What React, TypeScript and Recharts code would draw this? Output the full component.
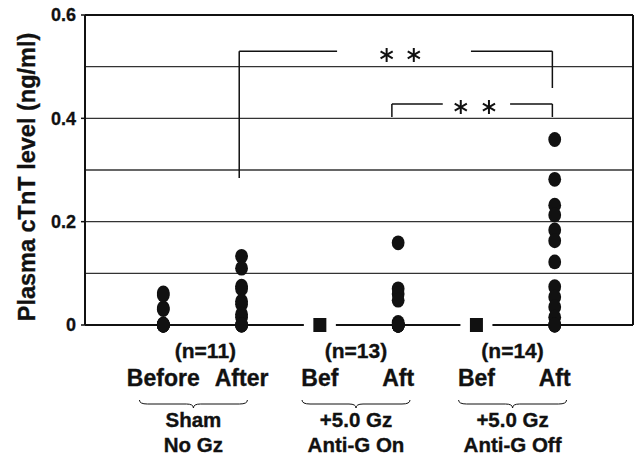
import React from 'react';
import { ComposedChart, Scatter, XAxis, YAxis, ReferenceLine, Label } from 'recharts';

// ---- data ----
const columnX = [1, 2, 3, 4, 5, 6];
const columnLabels = ['Before', 'After', 'Bef', 'Aft', 'Bef', 'Aft'];
const groupX = [1.5, 3.5, 5.5];
const groupN = ['(n=11)', '(n=13)', '(n=14)'];
const groupLine1 = ['Sham', '+5.0 Gz', '+5.0 Gz'];
const groupLine2 = ['No Gz', 'Anti-G On', 'Anti-G Off'];
const yTicks = [0, 0.2, 0.4, 0.6];
const gridValues = [0.1, 0.2, 0.3, 0.4, 0.5];

const shamBefore = [0.062, 0.058, 0.033, 0.03, 0.002, 0, 0, 0, 0, 0, 0];
const shamAfter = [0.133, 0.11, 0.075, 0.07, 0.046, 0.04, 0.021, 0.015, 0, 0, 0];
const onBefore = [0];
const onAfter = [0.159, 0.07, 0.06, 0.048, 0.005, 0, 0, 0, 0, 0, 0, 0, 0];
const offBefore = [0];
const offAfter = [0.359, 0.282, 0.232, 0.213, 0.184, 0.163, 0.122, 0.074, 0.054, 0.035, 0.015, 0, 0, 0];

// significance brackets (data coordinates)
const bracketSegments = [
  [{ x: 1.97, y: 0.2845 }, { x: 1.97, y: 0.53 }],
  [{ x: 1.97, y: 0.53 }, { x: 3.22, y: 0.53 }],
  [{ x: 4.93, y: 0.53 }, { x: 5.97, y: 0.53 }],
  [{ x: 5.97, y: 0.53 }, { x: 5.97, y: 0.4587 }],
  [{ x: 3.92, y: 0.4026 }, { x: 3.92, y: 0.4277 }],
  [{ x: 3.92, y: 0.4277 }, { x: 4.57, y: 0.4277 }],
  [{ x: 5.43, y: 0.4277 }, { x: 5.97, y: 0.4277 }],
  [{ x: 5.97, y: 0.4277 }, { x: 5.97, y: 0.4026 }],
];
const asteriskX = [3.853, 4.2, 4.8, 5.16];
const asteriskY = [0.5226, 0.5226, 0.4219, 0.4219];

// ---- layout ----
const W = 635;
const H = 456;
const FONT = '"Liberation Sans", Arial, sans-serif';
const INK = '#111';
const groupDx = [-9, -3, -3];
const nDx = [3, -3, -3];

const toPoints = (x: number, ys: number[]) => ys.map((y) => ({ x, y }));
const asteriskData = asteriskX.map((x, i) => ({ x, y: asteriskY[i] }));

const Dot = (p: any) => <ellipse cx={p.cx} cy={p.cy} rx={6.4} ry={7.4} fill={INK} />;
const Square = (p: any) => (
  <g>
    <rect x={p.cx - 16} y={p.cy - 9} width={32} height={18} fill="#fff" />
    <rect x={p.cx - 6.5} y={p.cy - 7} width={13} height={14} fill={INK} />
  </g>
);
const Asterisk = (p: any) => {
  const r = 7;
  const lines = [90, 30, 150].map((a) => {
    const rad = (a * Math.PI) / 180;
    const dx = r * Math.cos(rad);
    const dy = r * Math.sin(rad);
    return <line key={a} x1={p.cx - dx} y1={p.cy - dy} x2={p.cx + dx} y2={p.cy + dy} stroke={INK} strokeWidth={2} />;
  });
  return <g>{lines}</g>;
};

const bracePath = (cx: number, top: number, half: number) => {
  const x0 = cx - half;
  const x1 = cx + half;
  const m = top + 4;
  return `M${x0},${top} Q${x0},${m} ${x0 + 8},${m} L${cx - 7},${m} Q${cx},${m} ${cx},${top + 8} Q${cx},${m} ${cx + 7},${m} L${x1 - 8},${m} Q${x1},${m} ${x1},${top}`;
};

const textStyle = { stroke: INK, strokeWidth: 0.35 };

const XTick = (props: any) => {
  const { x, y, payload } = props;
  const v = payload.value;
  const ci = columnX.indexOf(v);
  if (ci >= 0) {
    return (
      <text x={x} y={y + 61} textAnchor="middle" fontFamily={FONT} fontWeight="bold" fontSize={23} fill={INK} style={textStyle}>
        {columnLabels[ci]}
      </text>
    );
  }
  const gi = groupX.indexOf(v);
  if (gi < 0) return null;
  const gx = x + groupDx[gi];
  return (
    <g>
      <text x={x + nDx[gi]} y={y + 33} textAnchor="middle" fontFamily={FONT} fontWeight="bold" fontSize={21} fill={INK} style={textStyle}>
        {groupN[gi]}
      </text>
      <path d={bracePath(gx, y + 75, 54)} fill="none" stroke={INK} strokeWidth={1} />
      <text x={gx} y={y + 102} textAnchor="middle" fontFamily={FONT} fontWeight="bold" fontSize={20.5} fill={INK} style={textStyle}>
        {groupLine1[gi]}
      </text>
      <text x={gx} y={y + 127} textAnchor="middle" fontFamily={FONT} fontWeight="bold" fontSize={20.5} fill={INK} style={textStyle}>
        {groupLine2[gi]}
      </text>
    </g>
  );
};

const YLabel = () => (
  <text
    x={34.5}
    y={177}
    transform="rotate(-90 34.5 177)"
    textAnchor="middle"
    fontFamily={FONT}
    fontWeight="bold"
    fontSize={23.5}
    fill={INK}
    style={textStyle}
  >
    Plasma cTnT level (ng/ml)
  </text>
);

export default function App() {
  const xTicks = [...columnX, ...groupX].sort((a, b) => a - b);
  return (
    <div style={{ position: 'absolute', left: 0, top: 0, width: W, height: H, background: '#fff' }}>
      <ComposedChart width={W} height={H} margin={{ top: 15, right: 2, bottom: 6, left: 0 }}>
        <XAxis
          type="number"
          dataKey="x"
          domain={[0, 7]}
          ticks={xTicks}
          interval={0}
          tickLine={false}
          tickSize={0}
          tickMargin={0}
          tick={<XTick />}
          height={125}
          axisLine={{ stroke: INK, strokeWidth: 2 }}
        />
        <YAxis
          type="number"
          dataKey="y"
          domain={[0, 0.6]}
          ticks={yTicks}
          interval={0}
          width={85}
          tickSize={4}
          tickMargin={5}
          tickLine={{ stroke: INK, strokeWidth: 1.5 }}
          axisLine={{ stroke: INK, strokeWidth: 2 }}
          tickFormatter={(v: number) => (v === 0 ? '0' : v.toFixed(1))}
          tick={{ fontFamily: FONT, fontWeight: 'bold', fontSize: 18, fill: INK, stroke: INK, strokeWidth: 0.3 }}
        >
          <Label content={<YLabel />} />
        </YAxis>
        {gridValues.map((g) => (
          <ReferenceLine key={g} y={g} stroke="#333" strokeWidth={1.3} />
        ))}
        <ReferenceLine y={0.6} stroke={INK} strokeWidth={2} />
        <ReferenceLine x={7} stroke={INK} strokeWidth={2} />
        {bracketSegments.map((s, i) => (
          <ReferenceLine key={'b' + i} segment={s} stroke={INK} strokeWidth={1.5} />
        ))}
        <Scatter data={toPoints(1, shamBefore)} shape={Dot} isAnimationActive={false} />
        <Scatter data={toPoints(2, shamAfter)} shape={Dot} isAnimationActive={false} />
        <Scatter data={toPoints(3, onBefore)} shape={Square} isAnimationActive={false} />
        <Scatter data={toPoints(4, onAfter)} shape={Dot} isAnimationActive={false} />
        <Scatter data={toPoints(5, offBefore)} shape={Square} isAnimationActive={false} />
        <Scatter data={toPoints(6, offAfter)} shape={Dot} isAnimationActive={false} />
        <Scatter data={asteriskData} shape={Asterisk} isAnimationActive={false} />
      </ComposedChart>
    </div>
  );
}
